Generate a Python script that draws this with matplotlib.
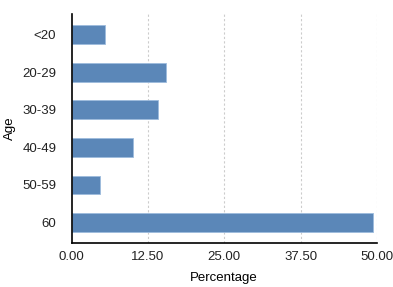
import matplotlib
matplotlib.use("Agg")
import matplotlib.pyplot as plt

ages = ['<20', '20-29', '30-39', '40-49', '50-59', '60']
pct = [5.5, 15.5, 14.1, 10.1, 4.7, 49.4]
xticks = [0, 12.5, 25, 37.5, 50]

plt.rcParams['font.family'] = ['Liberation Sans', 'DejaVu Sans']

fig = plt.figure(figsize=(3.93, 2.87), dpi=100)
ax = fig.add_axes([0.182, 0.153, 0.777, 0.798])

ax.barh(range(len(ages)), pct, height=0.5, color='#5b87b8',
        edgecolor='#9dbbdd', linewidth=0.6, zorder=2)

ax.set_xlim(0, 50)
ax.set_ylim(len(ages) - 0.45, -0.55)
ax.set_xticks(xticks)
ax.set_xticklabels(['%.2f' % v for v in xticks])
ax.set_yticks(range(len(ages)))
ax.set_yticklabels(ages)
ax.tick_params(length=0, labelsize=9.5, colors='#222222')
ax.tick_params(axis='y', pad=11)
ax.tick_params(axis='x', pad=6)

ax.grid(axis='x', color='#cccccc', linestyle=(0, (2, 2)), linewidth=0.8, zorder=0)
for g in ax.get_xgridlines()[:1]:
    g.set_visible(False)

for s in ['top', 'right']:
    ax.spines[s].set_visible(False)
for s in ['left', 'bottom']:
    ax.spines[s].set_linewidth(1.2)
    ax.spines[s].set_zorder(3)

ax.set_xlabel('Percentage', fontsize=9.5)
ax.set_ylabel('Age', fontsize=9.5)
ax.xaxis.set_label_coords(0.5, -0.153)
ax.yaxis.set_label_coords(-0.201, 0.5)
ax.xaxis.label.set_va('center')
ax.yaxis.label.set_va('center')

fig.savefig('out.png', dpi=100)
